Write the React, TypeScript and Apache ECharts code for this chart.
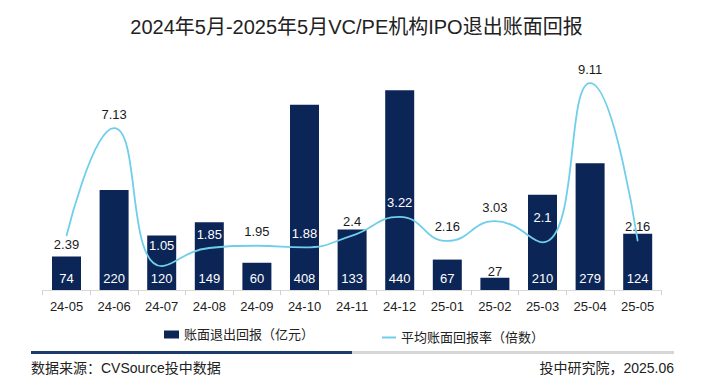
import React, { useEffect, useRef } from "react";
import * as echarts from "echarts";

const categories = ["24-05", "24-06", "24-07", "24-08", "24-09", "24-10", "24-11", "24-12", "25-01", "25-02", "25-03", "25-04", "25-05"];
const exitReturn = [74, 220, 120, 149, 60, 408, 133, 440, 67, 27, 210, 279, 124];
const avgMultiple = [2.39, 7.13, 1.05, 1.85, 1.95, 1.88, 2.4, 3.22, 2.16, 3.03, 2.1, 9.11, 2.16];

const barName = "账面退出回报（亿元）";
const lineName = "平均账面回报率（倍数）";
const titleText = "2024年5月-2025年5月VC/PE机构IPO退出账面回报";
const sourceText = "数据来源：CVSource投中数据";
const creditText = "投中研究院，2025.06";

// label styling (kept separate from data)
const whiteLineLabelIdx = [2, 3, 5, 7, 10];
const lineLabelDy: Record<number, number> = { 0: 22.8, 2: -7, 10: -11 };

const FONT = '"Liberation Sans", "Noto Sans CJK SC", Arial, sans-serif';
const NAVY = "#0c2557";
const SKY = "#6fcfea";

export default function App() {
  const ref = useRef<HTMLDivElement>(null);
  useEffect(() => {
    document.body.style.margin = "0";
    const chart = echarts.init(ref.current!, null, { renderer: "svg" });
    const barData = exitReturn.map((v) =>
      v < 40
        ? { value: v, label: { position: "top", color: "#222", distance: 0 } }
        : { value: v }
    );
    const lineData = avgMultiple.map((v, i) => ({
      value: v,
      label: {
        color: whiteLineLabelIdx.includes(i) ? "#ffffff" : "#1a1a1a",
        offset: [0, lineLabelDy[i] || 0],
      },
    }));
    chart.setOption({
      animation: false,
      textStyle: { fontFamily: FONT },
      title: {
        text: titleText,
        left: "center",
        top: 12,
        textStyle: { fontSize: 20, fontWeight: "normal", color: "#222", fontFamily: FONT },
      },
      grid: { left: 42.7, right: 51.5, top: 63, bottom: 96, containLabel: false },
      legend: [
        {
          data: [{ name: barName, icon: "rect" }],
          left: 164,
          top: 328,
          padding: 0,
          itemWidth: 15,
          itemHeight: 8,
          itemGap: 5,
          textStyle: { fontSize: 13, color: "#222", fontFamily: FONT },
        },
        {
          data: [{ name: lineName, icon: "rect" }],
          left: 382,
          top: 331,
          padding: 0,
          itemWidth: 14,
          itemHeight: 2,
          textStyle: { fontSize: 13, color: "#222", fontFamily: FONT },
        },
      ],
      xAxis: {
        type: "category",
        data: categories,
        boundaryGap: true,
        axisLine: { lineStyle: { color: "#d9d9d9", width: 1 } },
        axisTick: { show: true, length: 5, lineStyle: { color: "#d0d0d0" } },
        axisLabel: { fontSize: 13, color: "#222", margin: 10, fontFamily: FONT },
      },
      yAxis: [
        { type: "value", min: 0, max: 500, show: false, splitLine: { show: false } },
        { type: "value", min: 0, max: 10, show: false, splitLine: { show: false } },
      ],
      series: [
        {
          name: barName,
          type: "bar",
          data: barData,
          barWidth: 29,
          itemStyle: { color: NAVY },
          label: {
            show: true,
            position: "insideBottom",
            distance: 5,
            color: "#ffffff",
            fontSize: 13,
            fontFamily: FONT,
          },
          z: 2,
        },
        {
          name: lineName,
          type: "line",
          yAxisIndex: 1,
          data: lineData,
          smooth: 0.5,
          symbol: "circle",
          symbolSize: 1,
          showSymbol: true,
          itemStyle: { color: SKY },
          lineStyle: { color: SKY, width: 1.8 },
          label: {
            show: true,
            position: "top",
            distance: 7,
            fontSize: 13,
            fontFamily: FONT,
          },
          z: 3,
        },
      ],
      graphic: [
        { type: "rect", shape: { x: 31, y: 351, width: 321, height: 3 }, style: { fill: "#1c3a6c" } },
        { type: "rect", shape: { x: 352, y: 351, width: 322, height: 3 }, style: { fill: "#d6d6d6" } },
        {
          type: "text",
          x: 31,
          y: 368,
          style: { text: sourceText, fontSize: 14, fill: "#222", fontFamily: FONT, verticalAlign: "middle" },
        },
        {
          type: "text",
          x: 674,
          y: 368,
          style: { text: creditText, fontSize: 14, fill: "#222", fontFamily: FONT, align: "right", verticalAlign: "middle" },
        },
      ],
    });
    return () => chart.dispose();
  }, []);
  return <div ref={ref} style={{ width: 713, height: 386 }} />;
}
